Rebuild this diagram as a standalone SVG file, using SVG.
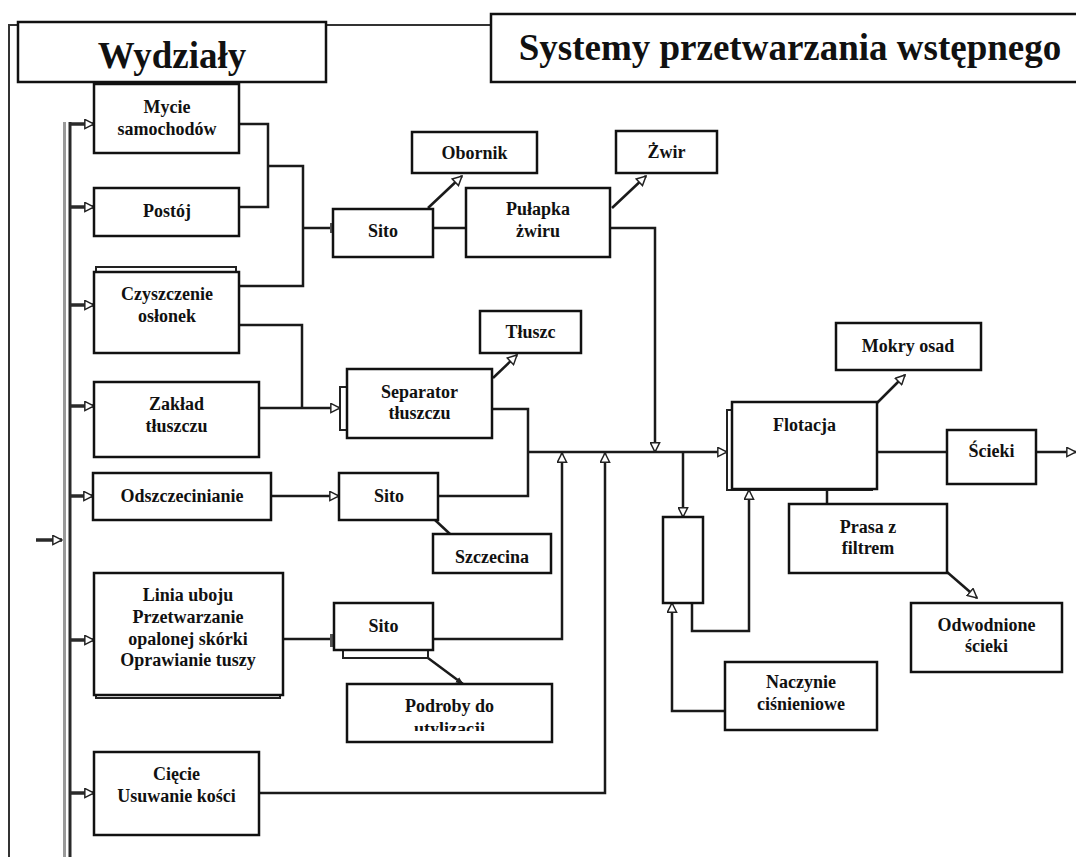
<svg xmlns="http://www.w3.org/2000/svg" width="1076" height="857" viewBox="0 0 1076 857">
  <style>
    .box { fill: #fff; stroke: #111; stroke-width: 2.5; }
    .shadow { fill: #fff; stroke: #222; stroke-width: 2; }
    .lbl { font-family: "Liberation Serif", "Times New Roman", serif; font-weight: bold; font-size: 18px; fill: #111; text-anchor: middle; }
    .title { font-family: "Liberation Serif", "Times New Roman", serif; font-weight: bold; font-size: 37px; fill: #111; text-anchor: middle; }
    .ln { fill: none; stroke: #1a1a1a; stroke-width: 2.5; }
    .thin { fill: none; stroke: #333; stroke-width: 2; }
    .arr { fill: none; stroke: #1a1a1a; stroke-width: 2.5; marker-end: url(#hollow); }
    .feed { fill: none; stroke: #2a2a2a; stroke-width: 3.5; marker-end: url(#hollow); }
  </style>
  <defs>
    <marker id="hollow" viewBox="0 0 12 12" refX="11" refY="6" markerWidth="11" markerHeight="11" markerUnits="userSpaceOnUse" orient="auto">
      <path d="M1,1 L11,6 L1,11 z" fill="#fff" stroke="#222" stroke-width="1.6"/>
    </marker>
    <marker id="solid" viewBox="0 0 10 10" refX="9" refY="5" markerWidth="8" markerHeight="8" markerUnits="userSpaceOnUse" orient="auto">
      <path d="M0,1 L10,5 L0,9 z" fill="#222"/>
    </marker>
    <clipPath id="podClip">
      <rect x="347" y="684" width="205" height="47"/>
    </clipPath>
  </defs>

  <!-- outer frame -->
  <g id="frame">
    <path class="thin" d="M9,857 V25 H18 M326,25 H491"/>
  </g>

  <!-- headers -->
  <g id="hdr-wydzialy">
    <rect class="box" x="18" y="22" width="308" height="60"/>
    <text class="title" x="172" y="68" font-size="38">Wydziały</text>
  </g>
  <g id="hdr-systemy">
    <rect class="box" x="491" y="14" width="600" height="68"/>
    <text class="title" x="790" y="60">Systemy przetwarzania wstępnego</text>
  </g>

  <!-- connectors -->
  <g id="connectors">
    <!-- supply bus -->
    <line x1="64.5" y1="122" x2="64.5" y2="857" stroke="#9a9a9a" stroke-width="3"/>
    <line x1="70" y1="122" x2="70" y2="857" stroke="#2a2a2a" stroke-width="3"/>
    <path class="feed" d="M36,540 H62"/>
    <path class="feed" d="M70,124 H94"/>
    <path class="feed" d="M70,207 H94"/>
    <path class="feed" d="M70,305 H94"/>
    <path class="feed" d="M70,406 H94"/>
    <path class="feed" d="M70,496 H93"/>
    <path class="feed" d="M70,640 H94"/>
    <path class="feed" d="M70,793 H94"/>

    <!-- departments to first screen -->
    <path class="ln" d="M239,124 H268 V207 H239"/>
    <path class="ln" d="M268,166 H303 V286 H239"/>
    <path class="ln" d="M303,228 H330"/>
    <!-- screen to grit trap -->
    <path class="ln" d="M433,228 H466"/>
    <path class="arr" d="M428,208 L462,176"/>
    <path class="arr" d="M612,208 L646,176"/>
    <path class="arr" d="M610,228 H655 V452"/>

    <!-- grease separator feed -->
    <path class="ln" d="M239,325 H302 V408"/>
    <path class="arr" d="M259,408 H340"/>
    <path class="arr" d="M493,378 L517,355"/>
    <path class="ln" d="M492,409 H528 V496 H438"/>

    <!-- dehairing screen -->
    <path class="arr" d="M271,496 H339"/>
    <path class="ln" d="M435,520 L450,534"/>

    <!-- slaughter line screen -->
    <path class="ln" d="M283,639 H330"/>
    <path class="arr" d="M433,639 H562 V453"/>
    <path d="M428,658 L463,684" fill="none" stroke="#1a1a1a" stroke-width="2.5" marker-end="url(#solid)"/>

    <!-- cutting line -->
    <path class="arr" d="M259,793 H605 V453"/>

    <!-- main collector to flotation -->
    <path class="arr" d="M528,452 H727"/>
    <path class="arr" d="M683,452 V517"/>
    <path class="arr" d="M725,711 H672 V603"/>
    <path class="arr" d="M692,603 V631 H749 V490"/>

    <!-- flotation outputs -->
    <path class="arr" d="M877,403 L905,375"/>
    <path class="ln" d="M877,452 H947"/>
    <path class="arr" d="M1036,452 H1076"/>
    <path class="ln" d="M827,490 V504"/>
    <path class="arr" d="M947,572 L977,598"/>
  </g>

  <!-- departments -->
  <g id="n-mycie">
    <rect class="box" x="94" y="84" width="145" height="69"/>
    <text class="lbl" x="167" y="113">Mycie</text>
    <text class="lbl" x="167" y="135">samochodów</text>
  </g>
  <g id="n-postoj">
    <rect class="box" x="94" y="188" width="145" height="48"/>
    <text class="lbl" x="167" y="217">Postój</text>
  </g>
  <g id="n-czyszczenie">
    <rect class="shadow" x="96" y="267" width="140" height="10"/>
    <rect class="box" x="94" y="272" width="145" height="81"/>
    <text class="lbl" x="167" y="300">Czyszczenie</text>
    <text class="lbl" x="167" y="322">osłonek</text>
  </g>
  <g id="n-zaklad">
    <rect class="box" x="94" y="382" width="165" height="75"/>
    <text class="lbl" x="176.5" y="410">Zakład</text>
    <text class="lbl" x="176.5" y="432">tłuszczu</text>
  </g>
  <g id="n-odszczecinianie">
    <rect class="box" x="93" y="473" width="178" height="47"/>
    <text class="lbl" x="182" y="502">Odszczecinianie</text>
  </g>
  <g id="n-linia">
    <rect class="shadow" x="96" y="685" width="184" height="13"/>
    <rect class="box" x="94" y="573" width="189" height="122"/>
    <text class="lbl" x="188" y="601">Linia uboju</text>
    <text class="lbl" x="188" y="623">Przetwarzanie</text>
    <text class="lbl" x="188" y="645">opalonej skórki</text>
    <text class="lbl" x="188" y="666">Oprawianie tuszy</text>
  </g>
  <g id="n-ciecie">
    <rect class="box" x="94" y="752" width="165" height="83"/>
    <text class="lbl" x="176.5" y="780">Cięcie</text>
    <text class="lbl" x="176.5" y="802">Usuwanie kości</text>
  </g>

  <!-- pretreatment units -->
  <g id="n-sito1">
    <rect x="330" y="223" width="4" height="10" fill="#555"/>
    <rect class="box" x="333" y="209" width="100" height="48"/>
    <text class="lbl" x="383" y="237">Sito</text>
  </g>
  <g id="n-obornik">
    <rect class="box" x="412" y="132" width="125" height="41"/>
    <text class="lbl" x="474.5" y="159">Obornik</text>
  </g>
  <g id="n-pulapka">
    <rect class="box" x="466" y="188" width="144" height="69"/>
    <text class="lbl" x="538" y="215">Pułapka</text>
    <text class="lbl" x="538" y="237">żwiru</text>
  </g>
  <g id="n-zwir">
    <rect class="box" x="616" y="131" width="101" height="42"/>
    <text class="lbl" x="666.5" y="158">Żwir</text>
  </g>
  <g id="n-separator">
    <rect class="shadow" x="340" y="387" width="10" height="43"/>
    <rect class="box" x="347" y="369" width="145" height="69"/>
    <text class="lbl" x="419.5" y="398">Separator</text>
    <text class="lbl" x="419.5" y="419">tłuszczu</text>
  </g>
  <g id="n-tluszcz">
    <rect class="box" x="480" y="311" width="101" height="42"/>
    <text class="lbl" x="530.5" y="338">Tłuszc</text>
  </g>
  <g id="n-sito2">
    <rect class="box" x="339" y="473" width="99" height="47"/>
    <text class="lbl" x="389" y="502">Sito</text>
  </g>
  <g id="n-szczecina">
    <rect class="box" x="433" y="534" width="118" height="39"/>
    <text class="lbl" x="492" y="563">Szczecina</text>
  </g>
  <g id="n-sito3">
    <rect class="shadow" x="343" y="645" width="85" height="13"/>
    <rect x="330" y="634" width="4" height="13" fill="#555"/>
    <rect class="box" x="334" y="603" width="99" height="47"/>
    <text class="lbl" x="383.5" y="632">Sito</text>
  </g>
  <g id="n-podroby">
    <rect class="box" x="347" y="684" width="205" height="58"/>
    <text class="lbl" x="449.5" y="712">Podroby do</text>
    <text class="lbl" x="449.5" y="735" clip-path="url(#podClip)">utylizacji</text>
  </g>
  <g id="n-flotacja">
    <rect class="shadow" x="727" y="410" width="145" height="80"/>
    <rect class="box" x="732" y="402" width="145" height="87"/>
    <text class="lbl" x="804.5" y="431">Flotacja</text>
  </g>
  <g id="n-mokry">
    <rect class="box" x="836" y="323" width="145" height="47"/>
    <text class="lbl" x="908" y="352">Mokry osad</text>
  </g>
  <g id="n-scieki">
    <rect class="box" x="947" y="430" width="89" height="54"/>
    <text class="lbl" x="991.5" y="457">Ścieki</text>
  </g>
  <g id="n-prasa">
    <rect class="box" x="789" y="504" width="158" height="69"/>
    <text class="lbl" x="868" y="533">Prasa z</text>
    <text class="lbl" x="868" y="554">filtrem</text>
  </g>
  <g id="n-odwodnione">
    <rect class="box" x="911" y="603" width="151" height="69"/>
    <text class="lbl" x="986.5" y="631">Odwodnione</text>
    <text class="lbl" x="986.5" y="652">ścieki</text>
  </g>
  <g id="n-zbiornik">
    <rect class="box" x="663" y="517" width="40" height="86"/>
  </g>
  <g id="n-naczynie">
    <rect class="box" x="725" y="662" width="152" height="68"/>
    <text class="lbl" x="801" y="688">Naczynie</text>
    <text class="lbl" x="801" y="710">ciśnieniowe</text>
  </g>
</svg>
